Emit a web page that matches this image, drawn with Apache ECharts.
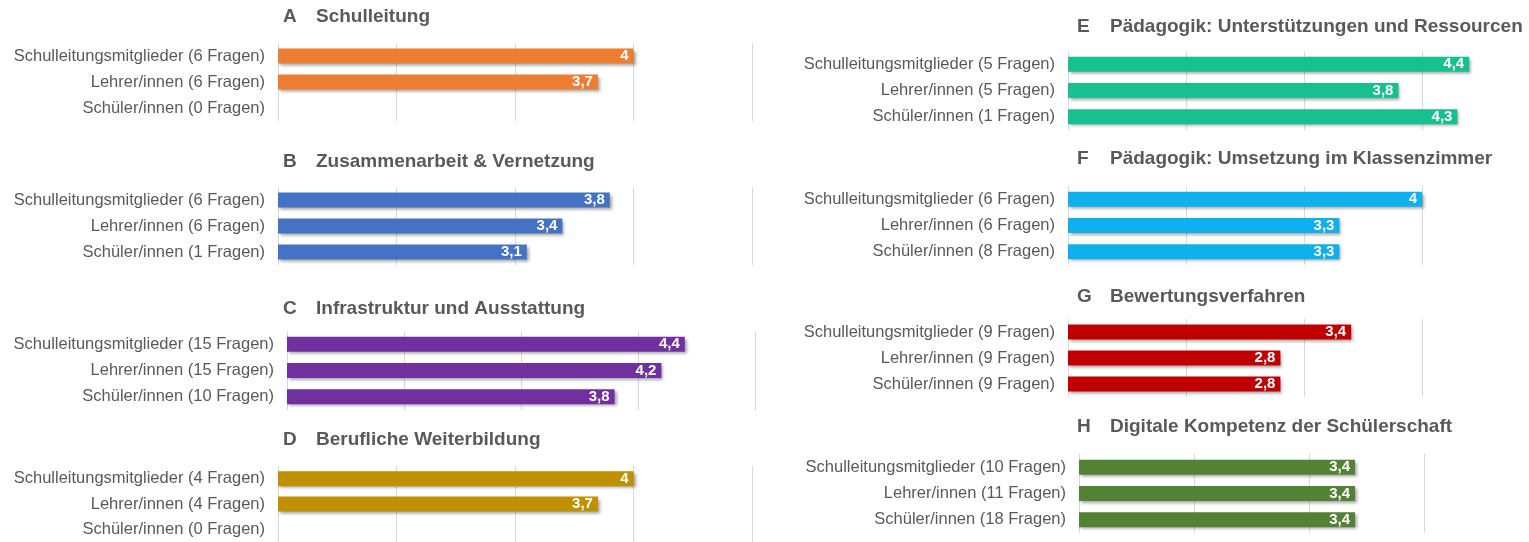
<!DOCTYPE html>
<html>
<head>
<meta charset="utf-8">
<script src="https://cdn.jsdelivr.net/npm/echarts@6/dist/echarts.min.js"></script>
<style>
html,body{margin:0;padding:0;background:#fff;overflow:hidden;}
#c{width:1560px;height:542px;}
</style>
</head>
<body>
<div id="c"></div>
<script>
// ---- data ----
const groups = ['Schulleitungsmitglieder', 'Lehrer/innen', 'Schüler/innen'];
const panelLetters = ['A', 'B', 'C', 'D', 'E', 'F', 'G', 'H'];
const panelTitles = [
  'Schulleitung',
  'Zusammenarbeit & Vernetzung',
  'Infrastruktur und Ausstattung',
  'Berufliche Weiterbildung',
  'Pädagogik: Unterstützungen und Ressourcen',
  'Pädagogik: Umsetzung im Klassenzimmer',
  'Bewertungsverfahren',
  'Digitale Kompetenz der Schülerschaft'
];
const questionsA = [6, 6, 0];
const questionsB = [6, 6, 1];
const questionsC = [15, 15, 10];
const questionsD = [4, 4, 0];
const questionsE = [5, 5, 1];
const questionsF = [6, 6, 8];
const questionsG = [9, 9, 9];
const questionsH = [10, 11, 18];
const valuesA = [4.0, 3.7, null];
const valuesB = [3.8, 3.4, 3.1];
const valuesC = [4.4, 4.2, 3.8];
const valuesD = [4.0, 3.7, null];
const valuesE = [4.4, 3.8, 4.3];
const valuesF = [4.0, 3.3, 3.3];
const valuesG = [3.4, 2.8, 2.8];
const valuesH = [3.4, 3.4, 3.4];
const axisMin = 1, axisMax = 5, axisStep = 1;

// ---- styling / layout ----
const barColors = ['#ED7D31', '#4472C4', '#7030A0', '#BF9000', '#17C08F', '#0FB0EE', '#C00000', '#548235'];
const gridBoxes = [
  {left: 278, width: 474, top: 43, height: 78},
  {left: 278, width: 474, top: 187, height: 78},
  {left: 287, width: 468, top: 331, height: 79},
  {left: 278, width: 474, top: 466, height: 78},
  {left: 1068, width: 472, top: 51, height: 79},
  {left: 1068, width: 472, top: 186, height: 79},
  {left: 1068, width: 472, top: 319, height: 78},
  {left: 1079, width: 460, top: 454, height: 79}
];
const titlePos = [
  {left: 283, top: 7}, {left: 283, top: 152}, {left: 283, top: 299}, {left: 283, top: 430},
  {left: 1077, top: 17}, {left: 1077, top: 149}, {left: 1077, top: 287}, {left: 1077, top: 417}
];
const FONT = "'Liberation Sans', Arial, sans-serif";
const TXT = '#595959';

const questions = [questionsA, questionsB, questionsC, questionsD, questionsE, questionsF, questionsG, questionsH];
const values = [valuesA, valuesB, valuesC, valuesD, valuesE, valuesF, valuesG, valuesH];

const option = {
  animation: false,
  backgroundColor: '#fff',
  title: [], grid: [], xAxis: [], yAxis: [], series: []
};

for (let i = 0; i < 8; i++) {
  option.title.push({
    text: '{l|' + panelLetters[i] + '}{t|' + panelTitles[i] + '}',
    left: titlePos[i].left, top: titlePos[i].top, padding: 0,
    textStyle: {
      fontFamily: FONT, fontSize: 19, fontWeight: 'bold', color: TXT,
      rich: {
        l: {fontFamily: FONT, fontSize: 19, fontWeight: 'bold', color: TXT, width: 33},
        t: {fontFamily: FONT, fontSize: 19, fontWeight: 'bold', color: TXT}
      }
    }
  });
  option.grid.push(Object.assign({containLabel: false}, gridBoxes[i]));
  option.xAxis.push({
    type: 'value', gridIndex: i, min: axisMin, max: axisMax, interval: axisStep,
    axisLine: {show: false}, axisTick: {show: false}, axisLabel: {show: false},
    splitLine: {show: true, lineStyle: {color: '#D9D9D9', width: 1}}
  });
  option.yAxis.push({
    type: 'category', gridIndex: i, inverse: true,
    data: groups.map((g, k) => g + ' (' + questions[i][k] + ' Fragen)'),
    axisLine: {show: false}, axisTick: {show: false},
    axisLabel: {fontFamily: FONT, fontSize: 16.5, color: TXT, margin: 13}
  });
  option.series.push({
    type: 'bar', xAxisIndex: i, yAxisIndex: i,
    data: values[i],
    barWidth: 15,
    itemStyle: {
      color: barColors[i],
      shadowColor: 'rgba(0,0,0,0.35)', shadowBlur: 3, shadowOffsetX: 2, shadowOffsetY: 2
    },
    label: {
      show: true, position: 'insideRight', distance: 5,
      fontFamily: FONT, fontSize: 15, fontWeight: 'bold', color: '#fff',
      formatter: p => p.value == null ? '' : String(p.value).replace('.', ',')
    }
  });
}

const chart = echarts.init(document.getElementById('c'), null, {renderer: 'canvas'});
chart.setOption(option);
</script>
</body>
</html>
